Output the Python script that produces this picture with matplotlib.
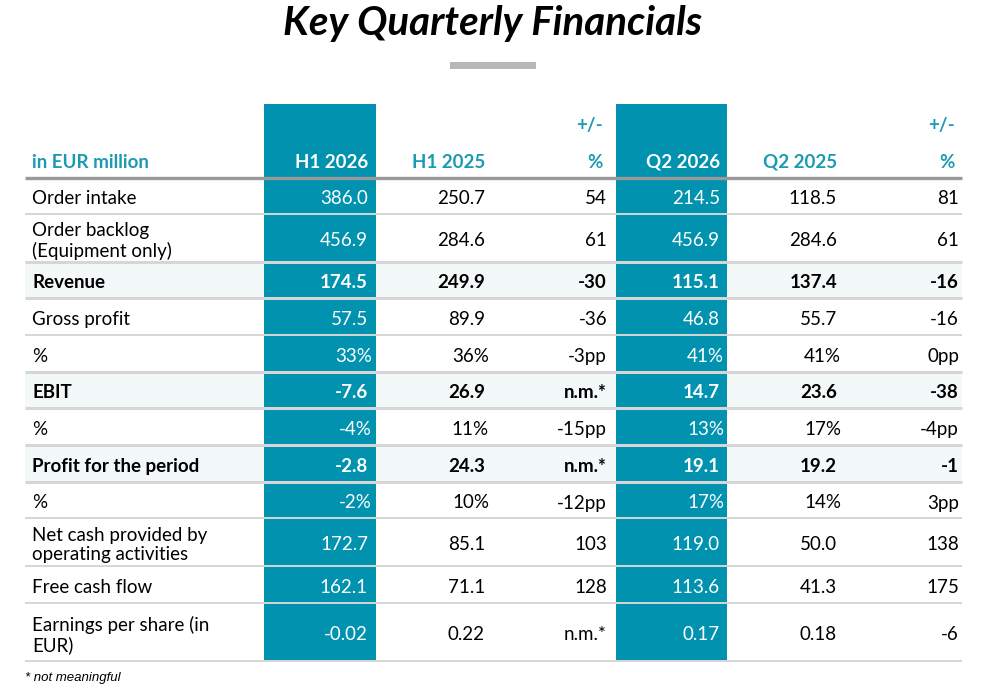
import matplotlib.pyplot as plt
from matplotlib.patches import Rectangle

plt.rcParams['font.family'] = ['Lato', 'DejaVu Sans']

# table content
row_labels = ['Order intake', 'Order backlog\n(Equipment only)', 'Revenue', 'Gross profit', '%',
              'EBIT', '%', 'Profit for the period', '%',
              'Net cash provided by\noperating activities', 'Free cash flow',
              'Earnings per share (in\nEUR)']
bold_rows = [False, False, True, False, False, True, False, True, False, False, False, False]
h1_2026 = ['386.0', '456.9', '174.5', '57.5', '33%', '-7.6', '-4%', '-2.8', '-2%', '172.7', '162.1', '-0.02']
h1_2025 = ['250.7', '284.6', '249.9', '89.9', '36%', '26.9', '11%', '24.3', '10%', '85.1', '71.1', '0.22']
h1_chg = ['54', '61', '-30', '-36', '-3pp', 'n.m.*', '-15pp', 'n.m.*', '-12pp', '103', '128', 'n.m.*']
q2_2026 = ['214.5', '456.9', '115.1', '46.8', '41%', '14.7', '13%', '19.1', '17%', '119.0', '113.6', '0.17']
q2_2025 = ['118.5', '284.6', '137.4', '55.7', '41%', '23.6', '17%', '19.2', '14%', '50.0', '41.3', '0.18']
q2_chg = ['81', '61', '-16', '-16', '0pp', '-38', '-4pp', '-1', '3pp', '138', '175', '-6']
col_headers = ['H1 2026', 'H1 2025', '+/-\n%', 'Q2 2026', 'Q2 2025', '+/-\n%']

# layout in pixels
row_edges = [178, 214, 262, 298, 335, 372, 408, 445, 482, 518, 566, 603, 661]
col_right = [368, 485, 607, 720, 837, 959]
teal_cols = [(264, 376), (616, 727)]
left, right = 25, 962

TEAL = '#0092ae'
HEAD = '#1b9ab3'
FS = 13.5

fig = plt.figure(figsize=(9.96, 6.93), dpi=100)
ax = fig.add_axes([0, 0, 1, 1])
ax.set_xlim(0, 996)
ax.set_ylim(693, 0)
ax.axis('off')

ax.text(493, 23, 'Key Quarterly Financials', ha='center', va='center',
        fontsize=29, fontweight='bold', fontstyle='italic', color='black')
ax.add_patch(Rectangle((450, 62), 86, 7, color='#b7b7b7', lw=0))

# shaded bold rows
for i, b in enumerate(bold_rows):
    if b:
        ax.add_patch(Rectangle((left, row_edges[i]), right - left, row_edges[i + 1] - row_edges[i],
                               color='#f3f8f9', lw=0, zorder=1))

for x0, x1 in teal_cols:
    ax.add_patch(Rectangle((x0, 104), x1 - x0, 661 - 104, color=TEAL, lw=0, zorder=2))

# separators
for i, y in enumerate(row_edges[1:], start=1):
    thick = bold_rows[i - 1] or (i < len(bold_rows) and bold_rows[i])
    ax.plot([left, right], [y, y], color='#d6d6d6', lw=2.2 if thick else 1.4, zorder=3,
            solid_capstyle='butt')
ax.plot([left, right], [row_edges[0], row_edges[0]], color='#999999', lw=2.4, zorder=3,
        solid_capstyle='butt')

# header
ax.text(32, 162, 'in EUR million', ha='left', va='center', fontsize=FS,
        fontweight='bold', color=HEAD, zorder=4)
for j, h in enumerate(col_headers):
    c = 'white' if j in (0, 3) else HEAD
    if '\n' in h:
        top, bot = h.split('\n')
        ax.text(col_right[j] - 4, 125, top, ha='right', va='center', fontsize=FS,
                fontweight='bold', color=c, zorder=4)
        ax.text(col_right[j] - 4, 162, bot, ha='right', va='center', fontsize=FS,
                fontweight='bold', color=c, zorder=4)
    else:
        ax.text(col_right[j], 162, h, ha='right', va='center', fontsize=FS,
                fontweight='bold', color=c, zorder=4)

columns = [h1_2026, h1_2025, h1_chg, q2_2026, q2_2025, q2_chg]
for i, label in enumerate(row_labels):
    yc = (row_edges[i] + row_edges[i + 1]) / 2 + 3
    w = 'bold' if bold_rows[i] else 'normal'
    ax.text(32, yc, label, ha='left', va='center', fontsize=FS, fontweight=w,
            color='black', linespacing=1.15, zorder=4)
    for j, col in enumerate(columns):
        val = col[i]
        x = col_right[j]
        if val.endswith('%') and j in (0, 1, 3, 4):
            x += 4
        c = 'white' if j in (0, 3) else 'black'
        ax.text(x, yc, val, ha='right', va='center', fontsize=FS, fontweight=w,
                color=c, zorder=4)

ax.text(25, 678, '* not meaningful', ha='left', va='center', fontsize=9.5,
        fontstyle='italic', family='Liberation Sans', color='black')

fig.savefig('out.png', dpi=100)
